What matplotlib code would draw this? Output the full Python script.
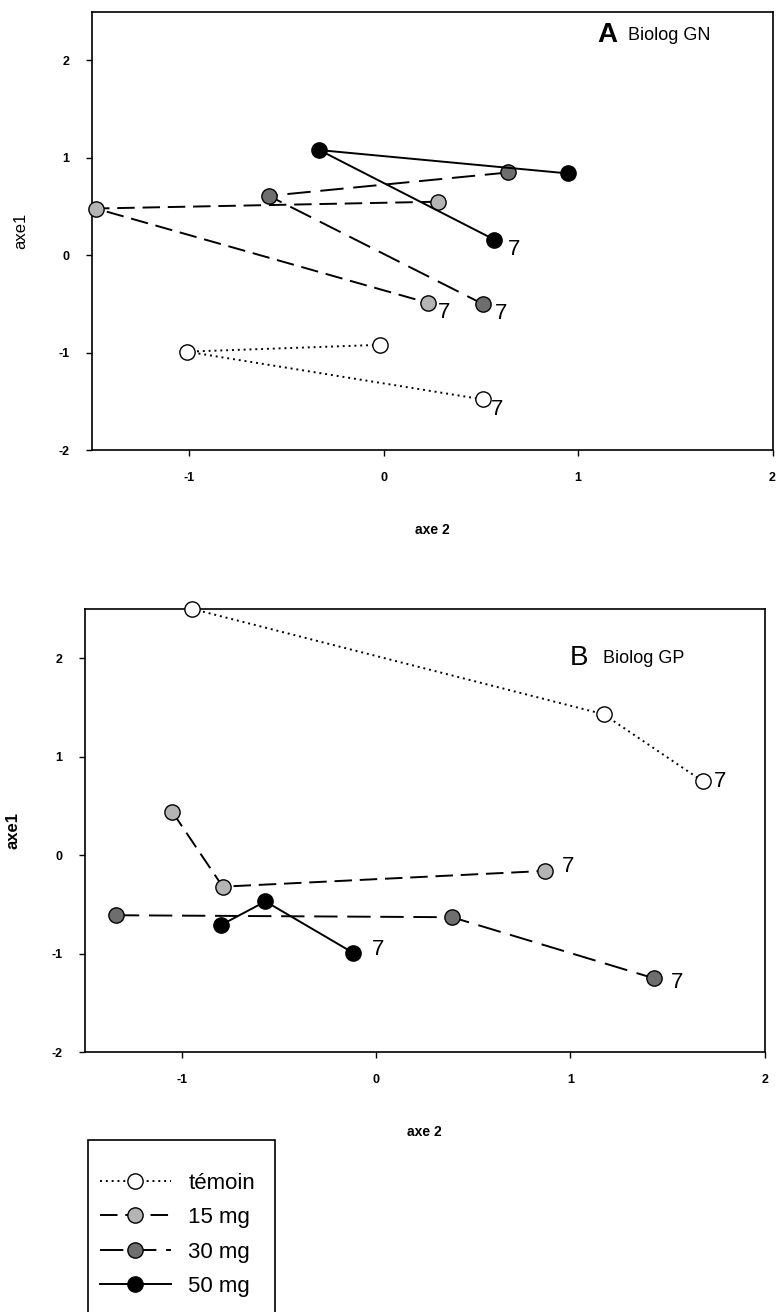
import matplotlib
matplotlib.use('Agg')
import matplotlib.pyplot as plt
from matplotlib.lines import Line2D
from matplotlib.patches import Rectangle

# ====== data (axe 2, axe1), sampling order, last point = day 7 ======
series = ['témoin', '15 mg', '30 mg', '50 mg']

gn_x = {'témoin': [-0.02, -1.01, 0.51],
        '15 mg': [0.28, -1.48, 0.23],
        '30 mg': [0.64, -0.59, 0.51],
        '50 mg': [0.95, -0.33, 0.57]}
gn_y = {'témoin': [-0.92, -0.99, -1.48],
        '15 mg': [0.55, 0.48, -0.49],
        '30 mg': [0.85, 0.61, -0.50],
        '50 mg': [0.84, 1.08, 0.16]}

gp_x = {'témoin': [-0.95, 1.17, 1.68],
        '15 mg': [-1.05, -0.79, 0.87],
        '30 mg': [-1.34, 0.39, 1.43],
        '50 mg': [-0.80, -0.57, -0.12]}
gp_y = {'témoin': [2.50, 1.43, 0.75],
        '15 mg': [0.44, -0.32, -0.16],
        '30 mg': [-0.61, -0.63, -1.25],
        '50 mg': [-0.71, -0.47, -0.99]}

last_label = '7'

# ====== styles ======
face = {'témoin': 'white', '15 mg': '#b4b4b4', '30 mg': '#6e6e6e', '50 mg': 'black'}
ls = {'témoin': (0, (1, 2)), '15 mg': (0, (9, 4)), '30 mg': (0, (12, 5)), '50 mg': '-'}
lbl_off = {'GN': {'témoin': (6, -7), '15 mg': (7, -7), '30 mg': (9, -7), '50 mg': (10, -7)},
           'GP': {'témoin': (8, 0), '15 mg': (12, 3), '30 mg': (12, -3), '50 mg': (14, 2)}}

plt.rcParams['font.family'] = ['Liberation Sans', 'DejaVu Sans']
plt.rcParams['axes.unicode_minus'] = False
fig = plt.figure(figsize=(7.78, 13.12), dpi=100)

ax_a = fig.add_axes([0.118, 0.657, 0.875, 0.334])
ax_b = fig.add_axes([0.109, 0.198, 0.874, 0.338])

def draw(ax, xs, ys, key):
    for s in series:
        ax.plot(xs[s], ys[s], linestyle=ls[s], color='black', lw=1.4,
                marker='o', ms=11, mfc=face[s], mec='black', mew=1.0,
                clip_on=False, zorder=3)
        ax.annotate(last_label, (xs[s][-1], ys[s][-1]), xytext=lbl_off[key][s],
                    textcoords='offset points', fontsize=16, va='center', ha='left')
    ax.set_xlim(-1.5, 2)
    ax.set_ylim(-2, 2.5)
    ax.set_xticks([-1, 0, 1, 2])
    ax.set_yticks([-2, -1, 0, 1, 2])
    ax.tick_params(direction='out', length=4, width=1, labelsize=9)
    for lab in ax.get_xticklabels() + ax.get_yticklabels():
        lab.set_fontweight('bold')
    ax.tick_params(axis='x', pad=12)
    ax.tick_params(axis='y', pad=12)
    for sp in ax.spines.values():
        sp.set_linewidth(1.2)
    ax.set_xlabel('axe 2', fontsize=10, fontweight='bold', labelpad=28)
    ax.set_ylabel('axe1', fontsize=12, labelpad=22)

draw(ax_a, gn_x, gn_y, 'GN')
draw(ax_b, gp_x, gp_y, 'GP')
ax_b.yaxis.label.set_fontweight('bold')

ax_a.text(0.743, 0.947, 'A', transform=ax_a.transAxes, fontsize=20, fontweight='bold', va='center')
ax_a.text(0.787, 0.945, 'Biolog GN', transform=ax_a.transAxes, fontsize=13,
          family=['Liberation Sans Narrow', 'Liberation Sans'], va='center')
ax_b.text(0.713, 0.889, 'B', transform=ax_b.transAxes, fontsize=20, va='center')
ax_b.text(0.762, 0.887, 'Biolog GP', transform=ax_b.transAxes, fontsize=13,
          family=['Liberation Sans Narrow', 'Liberation Sans'], va='center')

# legend box runs off the bottom of the page like in the scan
fig.patches.append(Rectangle((0.113, -0.01), 0.24, 0.141, transform=fig.transFigure,
                             fill=False, edgecolor='black', lw=1.2))
handles = [Line2D([], [], linestyle=ls[s], color='black', lw=1.4, marker='o', ms=11,
                  mfc=face[s], mec='black') for s in series]
fig.legend(handles, series, loc='upper left', bbox_to_anchor=(0.128, 0.106),
           fontsize=16, handlelength=3.2, handletextpad=0.8, labelspacing=0.6,
           borderpad=0, borderaxespad=0, frameon=False)

plt.savefig('out.png', dpi=100)
plt.close()
